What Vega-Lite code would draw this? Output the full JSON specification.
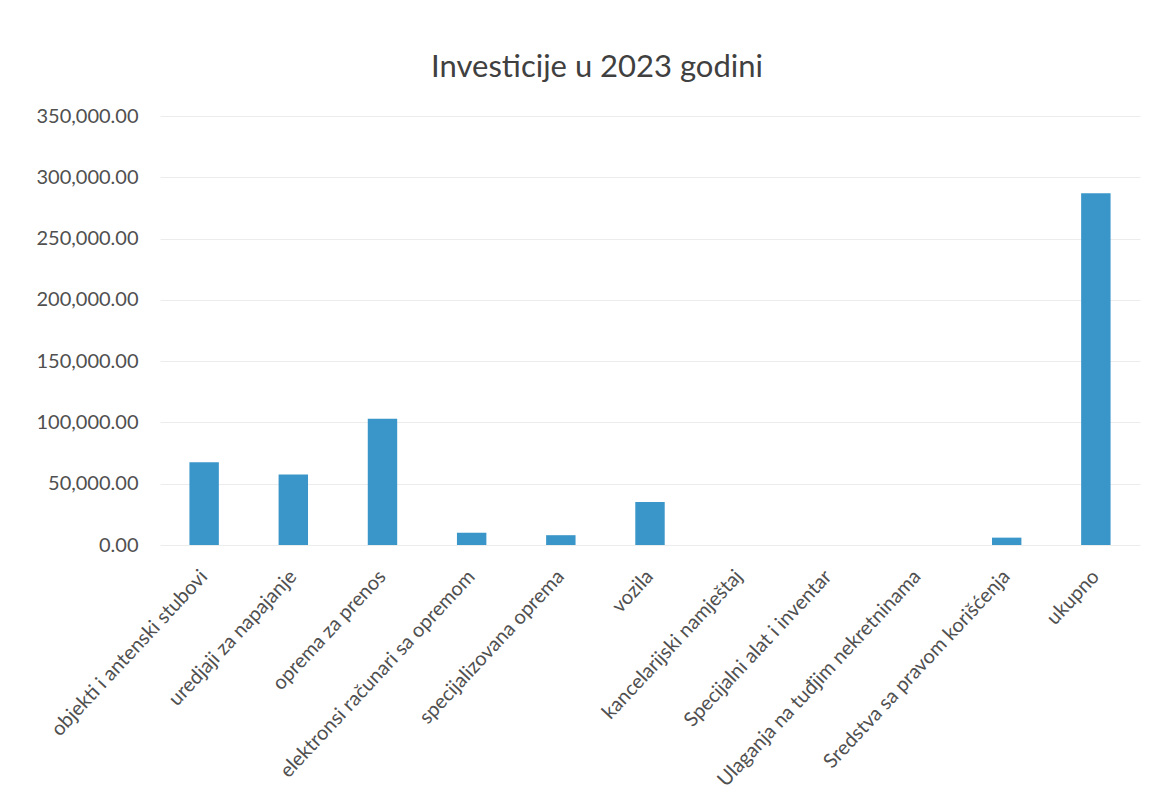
{
  "$schema": "https://vega.github.io/schema/vega-lite/v6.json",
  "width": 980,
  "height": 429,
  "autosize": {"type": "none"},
  "padding": {"left": 160, "top": 116, "right": 26, "bottom": 261},
  "background": "white",
  "title": {
    "text": "Investicije u 2023 godini",
    "fontSize": 31,
    "fontWeight": "normal",
    "font": "Lato",
    "color": "#404040",
    "anchor": "middle",
    "dx": -53,
    "offset": 22
  },
  "data": {
    "values": [
      {"kategorija": "objekti i antenski stubovi", "iznos": 67500},
      {"kategorija": "uredjaji za napajanje", "iznos": 57500},
      {"kategorija": "oprema za prenos", "iznos": 103000},
      {"kategorija": "elektronsi računari sa opremom", "iznos": 10000},
      {"kategorija": "specijalizovana oprema", "iznos": 8000},
      {"kategorija": "vozila", "iznos": 35000},
      {"kategorija": "kancelarijski namještaj", "iznos": 0},
      {"kategorija": "Specijalni alat i inventar", "iznos": 0},
      {"kategorija": "Ulaganja na tuđjim nekretninama", "iznos": 0},
      {"kategorija": "Sredstva sa pravom korišćenja", "iznos": 6000},
      {"kategorija": "ukupno", "iznos": 287000}
    ]
  },
  "mark": {"type": "bar", "color": "#3a96c8"},
  "encoding": {
    "x": {
      "field": "kategorija",
      "type": "nominal",
      "sort": null,
      "title": null,
      "scale": {"paddingInner": 0.67, "paddingOuter": 0.33},
      "axis": {
        "labelAngle": -47,
        "labelAlign": "right",
        "labelBaseline": "middle",
        "labelFont": "Lato",
        "labelFontSize": 20,
        "labelColor": "#505050",
        "labelPadding": 28,
        "ticks": false,
        "domain": false,
        "labelLimit": 400
      }
    },
    "y": {
      "field": "iznos",
      "type": "quantitative",
      "title": null,
      "scale": {"domain": [0, 350000]},
      "axis": {
        "values": [0, 50000, 100000, 150000, 200000, 250000, 300000, 350000],
        "format": ",.2f",
        "labelFont": "Lato",
        "labelFontSize": 20,
        "labelColor": "#505050",
        "labelPadding": 22,
        "ticks": false,
        "domain": false,
        "gridColor": "#ececec",
        "gridWidth": 1
      }
    }
  },
  "config": {"view": {"stroke": null}}
}
